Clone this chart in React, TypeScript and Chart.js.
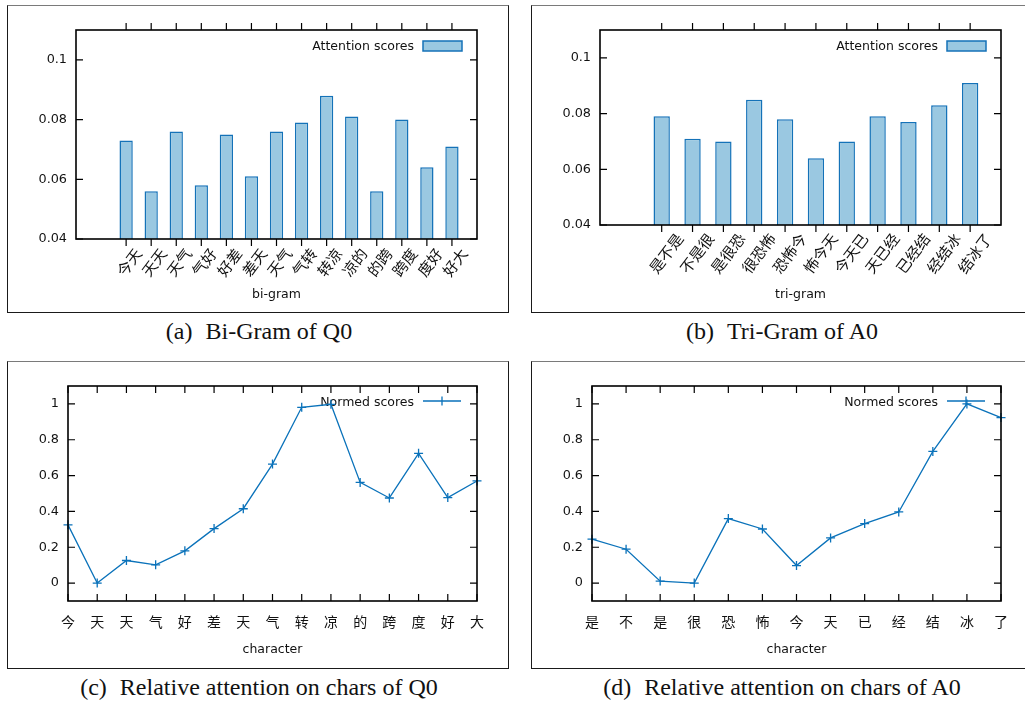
import React, { useEffect, useRef } from 'react';
import { Chart, registerables } from 'chart.js';

Chart.register(...registerables);

// ---------- data ----------
const biGrams = ['今天', '天天', '天气', '气好', '好差', '差天', '天气', '气转', '转凉', '凉的', '的跨', '跨度', '度好', '好大'];
const biScores = [0.073, 0.056, 0.076, 0.058, 0.075, 0.061, 0.076, 0.079, 0.088, 0.081, 0.056, 0.08, 0.064, 0.071];
const triGrams = ['是不是', '不是很', '是很恐', '很恐怖', '恐怖今', '怖今天', '今天已', '天已经', '已经结', '经结冰', '结冰了'];
const triScores = [0.079, 0.071, 0.07, 0.085, 0.078, 0.064, 0.07, 0.079, 0.077, 0.083, 0.091];
const q0Chars = ['今', '天', '天', '气', '好', '差', '天', '气', '转', '凉', '的', '跨', '度', '好', '大'];
const q0Scores = [0.325, 0, 0.126, 0.102, 0.18, 0.304, 0.415, 0.664, 0.981, 0.998, 0.562, 0.475, 0.724, 0.477, 0.57];
const a0Chars = ['是', '不', '是', '很', '恐', '怖', '今', '天', '已', '经', '结', '冰', '了'];
const a0Scores = [0.245, 0.189, 0.011, 0, 0.36, 0.302, 0.098, 0.252, 0.332, 0.397, 0.735, 1.0, 0.924];
const barYTicks = [0.04, 0.06, 0.08, 0.1];
const lineYTicks = [0, 0.2, 0.4, 0.6, 0.8, 1];
const barLegend = 'Attention scores';
const lineLegend = 'Normed scores';

// ---------- styles ----------
const FILL = '#9ac8e1';
const EDGE = '#1472b8';
const LINE = '#0a72ba';
const LATIN = "'DejaVu Sans', 'Noto Sans CJK SC', sans-serif";
const CJK = "'Noto Sans CJK SC', 'DejaVu Sans', sans-serif";
const W = 500;
const H = 306;

function gnuFrame(xOut: boolean, kind: 'box' | 'line') {
  return {
    id: 'gnuFrame',
    beforeDatasetsDraw(chart: any) {
      const { ctx, chartArea: a } = chart;
      const ds = chart.data.datasets[0];
      ctx.save();
      ctx.font = `12.5px ${LATIN}`;
      ctx.fillStyle = '#111';
      ctx.textAlign = 'right';
      ctx.textBaseline = 'middle';
      ctx.fillText(ds.label, a.right - 63, a.top + 17);
      if (kind === 'box') {
        ctx.fillStyle = FILL;
        ctx.fillRect(a.right - 54, a.top + 11, 39, 10);
        ctx.strokeStyle = EDGE;
        ctx.lineWidth = 1.5;
        ctx.strokeRect(a.right - 54, a.top + 11, 39, 10);
      } else {
        ctx.strokeStyle = LINE;
        ctx.lineWidth = 1.3;
        const y = a.top + 15;
        const cx = a.right - 35;
        ctx.beginPath();
        ctx.moveTo(a.right - 54, y);
        ctx.lineTo(a.right - 16, y);
        ctx.moveTo(cx, y - 4.5);
        ctx.lineTo(cx, y + 4.5);
        ctx.stroke();
      }
      ctx.restore();
    },
    afterDatasetsDraw(chart: any) {
      const { ctx, chartArea: a, scales } = chart;
      ctx.save();
      ctx.strokeStyle = '#000';
      ctx.lineWidth = 1.6;
      ctx.strokeRect(a.left, a.top, a.right - a.left, a.bottom - a.top);
      ctx.lineWidth = 1.2;
      ctx.beginPath();
      const ys = scales.y;
      ys.ticks.forEach((t: any) => {
        const py = ys.getPixelForValue(t.value);
        ctx.moveTo(a.left, py);
        ctx.lineTo(a.left + 7, py);
        ctx.moveTo(a.right, py);
        ctx.lineTo(a.right - 7, py);
      });
      const xs = scales.x;
      xs.ticks.forEach((t: any, i: number) => {
        const lbl = chart.data.labels[t.value];
        if (!lbl) return;
        const px = xs.getPixelForTick(i);
        const d = xOut ? 7 : -7;
        ctx.moveTo(px, a.bottom);
        ctx.lineTo(px, a.bottom + d);
        ctx.moveTo(px, a.top);
        ctx.lineTo(px, a.top - d);
      });
      ctx.stroke();
      ctx.restore();
    },
  };
}

function yScale(min: number, max: number, ticks: number[], width: number) {
  return {
    min,
    max,
    grid: { display: false, drawTicks: false },
    border: { display: false },
    afterBuildTicks: (s: any) => {
      s.ticks = ticks.map((v) => ({ value: v }));
    },
    ticks: {
      padding: 9,
      color: '#111',
      font: { family: LATIN, size: 12.8 },
      callback: (v: any) => String(+Number(v).toFixed(2)),
    },
    afterFit: (s: any) => {
      s.width = width;
    },
  };
}

function barConfig(labels: string[], values: number[], title: string, xHeight: number, labelOffset: number, pad: number) {
  const lbls = ['', '', ...labels, ''];
  const data = [null, null, ...values, null];
  return {
    type: 'bar',
    data: {
      labels: lbls,
      datasets: [
        {
          label: barLegend,
          data,
          backgroundColor: FILL,
          borderColor: EDGE,
          borderWidth: 1.5,
          barPercentage: 0.53,
          categoryPercentage: 1,
        },
      ],
    },
    options: {
      animation: false,
      responsive: false,
      devicePixelRatio: 1,
      layout: { padding: { top: 24, right: W - 469, left: 0, bottom: 0 } },
      plugins: { legend: { display: false }, tooltip: { enabled: false } },
      scales: {
        x: {
          type: 'category',
          offset: false,
          grid: { display: false, drawTicks: false },
          border: { display: false },
          ticks: {
            autoSkip: false,
            minRotation: 53,
            maxRotation: 53,
            padding: pad,
            labelOffset,
            color: '#111',
            font: { family: CJK, size: 15 },
          },
          title: {
            display: true,
            text: title,
            color: '#111',
            font: { family: LATIN, size: 12.5 },
            padding: { top: 0, bottom: 10 },
          },
          afterFit: (s: any) => {
            s.height = xHeight;
          },
        },
        y: yScale(0.04, 0.11, barYTicks, 68),
      },
    },
    plugins: [gnuFrame(true, 'box')],
  } as any;
}

function lineConfig(labels: string[], values: number[]) {
  return {
    type: 'line',
    data: {
      labels,
      datasets: [
        {
          label: lineLegend,
          data: values,
          borderColor: LINE,
          backgroundColor: LINE,
          borderWidth: 1.3,
          pointStyle: 'cross',
          pointRadius: 4.5,
          pointBorderWidth: 1.3,
          pointBorderColor: LINE,
          tension: 0,
          clip: false,
        },
      ],
    },
    options: {
      animation: false,
      responsive: false,
      devicePixelRatio: 1,
      layout: { padding: { top: 24, right: W - 469, left: 0, bottom: 0 } },
      plugins: { legend: { display: false }, tooltip: { enabled: false } },
      scales: {
        x: {
          type: 'category',
          offset: false,
          grid: { display: false, drawTicks: false },
          border: { display: false },
          ticks: {
            autoSkip: false,
            minRotation: 0,
            maxRotation: 0,
            padding: 12,
            color: '#111',
            font: { family: CJK, size: 14 },
          },
          title: {
            display: true,
            text: 'character',
            color: '#111',
            font: { family: LATIN, size: 12.5 },
            padding: { top: 0, bottom: 11 },
          },
          afterFit: (s: any) => {
            s.height = H - 239;
          },
        },
        y: yScale(-0.1, 1.1, lineYTicks, 60),
      },
    },
    plugins: [gnuFrame(false, 'line')],
  } as any;
}

function Panel({ left, top, make }: { left: number; top: number; make: () => any }) {
  const ref = useRef<HTMLCanvasElement>(null);
  useEffect(() => {
    const chart = new Chart(ref.current as HTMLCanvasElement, make());
    return () => chart.destroy();
  }, []);
  return (
    <div
      style={{
        position: 'absolute',
        left,
        top,
        width: W + 2,
        height: H + 2,
        boxSizing: 'border-box',
        border: '1px solid #1a1a1a',
        borderTopColor: '#7a7a7a',
        background: '#fff',
      }}
    >
      <canvas ref={ref} width={W} height={H} style={{ display: 'block', width: W, height: H }} />
    </div>
  );
}

function Caption({ center, top, tag, text }: { center: number; top: number; tag: string; text: string }) {
  return (
    <div
      style={{
        position: 'absolute',
        left: center - 300,
        top,
        width: 600,
        textAlign: 'center',
        fontFamily: "'Liberation Serif', 'Times New Roman', serif",
        fontSize: 24,
        lineHeight: '24px',
        color: '#111',
        whiteSpace: 'nowrap',
      }}
    >
      {tag}
      <span style={{ marginLeft: 13 }}>{text}</span>
    </div>
  );
}

export default function App() {
  return (
    <div
      style={{
        position: 'fixed',
        left: 0,
        top: 0,
        width: 1025,
        height: 704,
        overflow: 'hidden',
        background: '#fff',
      }}
    >
      <Panel left={7} top={5} make={() => barConfig(biGrams, biScores, 'bi-gram', H - 233, 12, 6)} />
      <Panel left={531} top={5} make={() => barConfig(triGrams, triScores, 'tri-gram', H - 219, 18, 5)} />
      <Panel left={7} top={361} make={() => lineConfig(q0Chars, q0Scores)} />
      <Panel left={531} top={361} make={() => lineConfig(a0Chars, a0Scores)} />
      <Caption center={259} top={319} tag="(a)" text="Bi-Gram of Q0" />
      <Caption center={782} top={319} tag="(b)" text="Tri-Gram of A0" />
      <Caption center={259} top={675} tag="(c)" text="Relative attention on chars of Q0" />
      <Caption center={782} top={675} tag="(d)" text="Relative attention on chars of A0" />
    </div>
  );
}
